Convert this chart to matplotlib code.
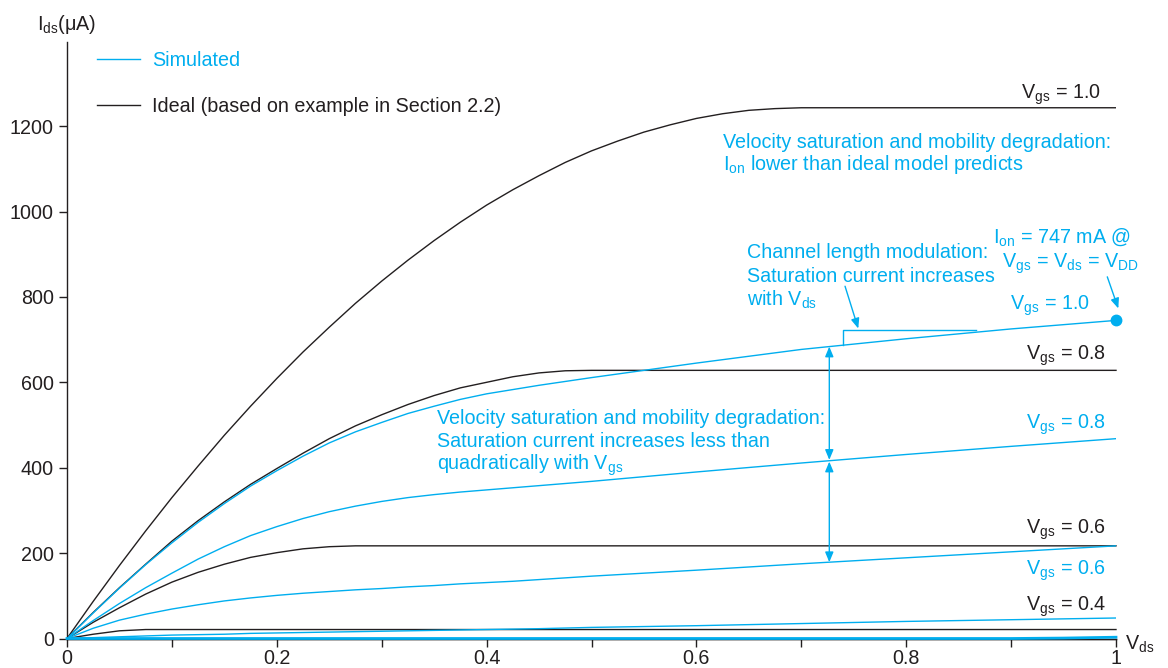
import numpy as np
import matplotlib
matplotlib.use("Agg")
import matplotlib.pyplot as plt

# ---------------- data ----------------
ideal_vds = [0, 0.025, 0.05, 0.075, 0.1, 0.125, 0.15, 0.175, 0.2, 0.225, 0.25, 0.275,
             0.3, 0.325, 0.35, 0.375, 0.4, 0.425, 0.45, 0.475, 0.5, 0.525, 0.55, 0.575,
             0.6, 0.625, 0.65, 0.675, 0.7, 1.0]
ideal_vgs10 = [0, 87, 171, 252, 330, 404, 476, 544, 609, 671, 729, 785,
               837, 886, 932, 975, 1015, 1051, 1084, 1115, 1142, 1165, 1186, 1203,
               1218, 1229, 1237, 1241, 1243, 1243]
ideal_vgs08 = [0, 61, 119, 174, 228, 276, 320, 361, 398, 434, 468, 498,
               524, 548, 569, 587, 600, 613, 622, 627, 628, 628, 628, 628,
               628, 628, 628, 628, 628, 628]
ideal_vgs06 = [0, 38, 72, 104, 132, 155, 174, 190, 201, 210, 215, 217,
               217, 217, 217, 217, 217, 217, 217, 217, 217, 217, 217, 217,
               217, 217, 217, 217, 217, 217]
ideal_vgs04 = [0, 10, 18, 21, 21, 21, 21, 21, 21, 21, 21, 21,
               21, 21, 21, 21, 21, 21, 21, 21, 21, 21, 21, 21,
               21, 21, 21, 21, 21, 21]
ideal_vgs02 = [0] * 30

sim_vds = [0, 0.025, 0.05, 0.075, 0.1, 0.125, 0.15, 0.175, 0.2, 0.225, 0.25, 0.275,
           0.3, 0.325, 0.35, 0.375, 0.4, 0.425, 0.45, 0.5, 0.6, 0.7, 0.8, 0.9, 0.95, 1.0]
sim_vgs10 = [0, 60, 118, 173, 224, 272, 316, 357, 393, 427, 458, 484,
             506, 527, 544, 560, 573, 583, 593, 611, 645, 677, 702, 725, 735, 745]
sim_vgs08 = [0, 42, 82, 119, 153, 186, 215, 241, 262, 281, 297, 310,
             321, 330, 337, 343, 348, 353, 358, 368, 390, 411, 431, 450, 459, 468]
sim_vgs06 = [0, 24, 43, 57, 69, 79, 88, 95, 101, 106, 110, 114,
             117, 121, 124, 128, 131, 134, 138, 146, 160, 175, 189, 203, 210, 217]
sim_vgs04 = [0, 2, 4, 6, 8, 9, 10, 12, 13, 14, 15, 16,
             17, 18, 19, 20, 21, 22, 23, 26, 30, 35, 40, 44, 46, 48]
sim_vgs02 = [0, 0, 0, 0, 0, 0, 0, 0, 0, 0, 0, 0,
             0, 0, 0, 0, 0, 0, 0, 0, 0, 0, 0, 0, 1, 3]

x_ticks = [0, 0.2, 0.4, 0.6, 0.8, 1.0]
x_tick_labels = ["0", "0.2", "0.4", "0.6", "0.8", "1"]
x_minor_ticks = [0.1, 0.3, 0.5, 0.7, 0.9]
y_ticks = [0, 200, 400, 600, 800, 1000, 1200]
y_tick_labels = ["0", "200", "400", "600", "800", "1000", "1200"]
i_on = 747

# ---------------- style ----------------
BLUE = "#00AEEF"
DARK = "#231F20"
plt.rcParams["font.family"] = ["Liberation Sans", "DejaVu Sans"]
plt.rcParams["mathtext.fontset"] = "custom"
plt.rcParams["mathtext.rm"] = "Liberation Sans"
plt.rcParams["mathtext.it"] = "Liberation Sans:italic"
plt.rcParams["mathtext.bf"] = "Liberation Sans:bold"
plt.rcParams["mathtext.default"] = "regular"
FS = 14.2

fig = plt.figure(figsize=(11.68, 6.68), dpi=100)
ax = fig.add_axes([67 / 1168, 1 - 638.5 / 668, 1049 / 1168, (638.5 - 42) / 668])
ax.set_xlim(0, 1)
ax.set_ylim(0, 1397)

for s in ["top", "right"]:
    ax.spines[s].set_visible(False)
for s in ["left", "bottom"]:
    ax.spines[s].set_color(DARK)
    ax.spines[s].set_linewidth(1.0)

ax.set_xticks(x_ticks)
ax.set_xticklabels(x_tick_labels)
ax.set_xticks(x_minor_ticks, minor=True)
ax.set_yticks(y_ticks)
ax.set_yticklabels(y_tick_labels)
ax.tick_params(axis="both", which="both", direction="out", length=5.5, width=1.0,
               color=DARK, labelcolor=DARK, labelsize=FS)
ax.tick_params(axis="x", which="both", pad=2.2)
ax.tick_params(axis="y", which="both", pad=4)

LW = 1.0
# ideal curves
l_ideal, = ax.plot(ideal_vds, ideal_vgs10, color=DARK, lw=LW, label="Ideal (based on example in Section 2.2)")
for ser in [ideal_vgs08, ideal_vgs06, ideal_vgs04, ideal_vgs02]:
    ax.plot(ideal_vds, ser, color=DARK, lw=LW, clip_on=False)
# simulated curves
l_sim, = ax.plot(sim_vds, sim_vgs10, color=BLUE, lw=LW, label="Simulated")
for ser in [sim_vgs08, sim_vgs06, sim_vgs04]:
    ax.plot(sim_vds, ser, color=BLUE, lw=LW)
ax.plot(sim_vds, sim_vgs02, color=BLUE, lw=2.0, clip_on=False, zorder=3)

# I_on dot
ax.plot([sim_vds[-1]], [i_on], "o", color=BLUE, ms=7.5, clip_on=False, zorder=5)

leg = fig.legend(handles=[l_sim, l_ideal], loc="upper left",
                 bbox_to_anchor=(96.7 / 1168, 1 - 51 / 668), bbox_transform=fig.transFigure,
                 frameon=False, fontsize=FS, handlelength=2.2, handletextpad=0.62,
                 labelspacing=1.35, borderpad=0, borderaxespad=0)
for t, c in zip(leg.get_texts(), [BLUE, DARK]):
    t.set_color(c)

# axis labels
ax.text(0.0, 1425, r"I$_{ds}$(μA)", ha="center", va="baseline", fontsize=FS, color=DARK, clip_on=False)
ax.text(1.0086, -27, r"V$_{ds}$", ha="left", va="baseline", fontsize=FS, color=DARK, clip_on=False)

# curve labels
def lab(x, y, s, c, ha="right"):
    ax.text(x, y, s, ha=ha, va="baseline", fontsize=FS, color=c, clip_on=False)

lab(0.9857, 1265, r"V$_{gs}$ = 1.0", DARK)
lab(0.975, 771, r"V$_{gs}$ = 1.0", BLUE)
lab(0.9905, 654, r"V$_{gs}$ = 0.8", DARK)
lab(0.9905, 492, r"V$_{gs}$ = 0.8", BLUE)
lab(0.9905, 246, r"V$_{gs}$ = 0.6", DARK)
lab(0.9905, 149, r"V$_{gs}$ = 0.6", BLUE)
lab(0.9905, 64, r"V$_{gs}$ = 0.4", DARK)

# annotation texts
lab(0.6257, 1148, "Velocity saturation and mobility degradation:", BLUE, ha="left")
lab(0.6257, 1097, r"I$_{on}$ lower than ideal model predicts", BLUE, ha="left")
lab(0.648, 890, "Channel length modulation:", BLUE, ha="left")
lab(0.648, 834, "Saturation current increases", BLUE, ha="left")
lab(0.648, 778.5, r"with V$_{ds}$", BLUE, ha="left")
lab(0.883, 927, r"I$_{on}$ = 747 mA @", BLUE, ha="left")
lab(0.891, 867.5, r"V$_{gs}$ = V$_{ds}$ = V$_{DD}$", BLUE, ha="left")
lab(0.3524, 502, "Velocity saturation and mobility degradation:", BLUE, ha="left")
lab(0.3524, 449, "Saturation current increases less than", BLUE, ha="left")
lab(0.3524, 394.5, r"quadratically with V$_{gs}$", BLUE, ha="left")

# arrows
head = "-|>,head_length=0.6,head_width=0.25"
dhead = "<|-|>,head_length=0.6,head_width=0.25"
ap = dict(arrowstyle=head, color=BLUE, lw=1.0, mutation_scale=10, shrinkA=0, shrinkB=0)
dap = dict(arrowstyle=dhead, color=BLUE, lw=1.0, mutation_scale=10, shrinkA=0, shrinkB=0)

# channel length modulation bracket
bx0, bx1, by = 0.740, 0.867, 722
ax.plot([bx0, bx0, bx1], [np.interp(bx0, sim_vds, sim_vgs10), by, by], color=BLUE, lw=LW)
ax.annotate("", xy=(0.7543, 726), xytext=(0.7417, 825), arrowprops=ap)
# I_on pointer
ax.annotate("", xy=(1.0022, 773), xytext=(0.9917, 847), arrowprops=ap, annotation_clip=False)

# double arrows between simulated curves
xa = 0.7267
y10 = np.interp(xa, sim_vds, sim_vgs10)
y08 = np.interp(xa, sim_vds, sim_vgs08)
y06 = np.interp(xa, sim_vds, sim_vgs06)
ax.annotate("", xy=(xa, y10), xytext=(xa, y08 + 2), arrowprops=dap)
ax.annotate("", xy=(xa, y08 - 2), xytext=(xa, y06), arrowprops=dap)

fig.savefig("out.png", dpi=100)
